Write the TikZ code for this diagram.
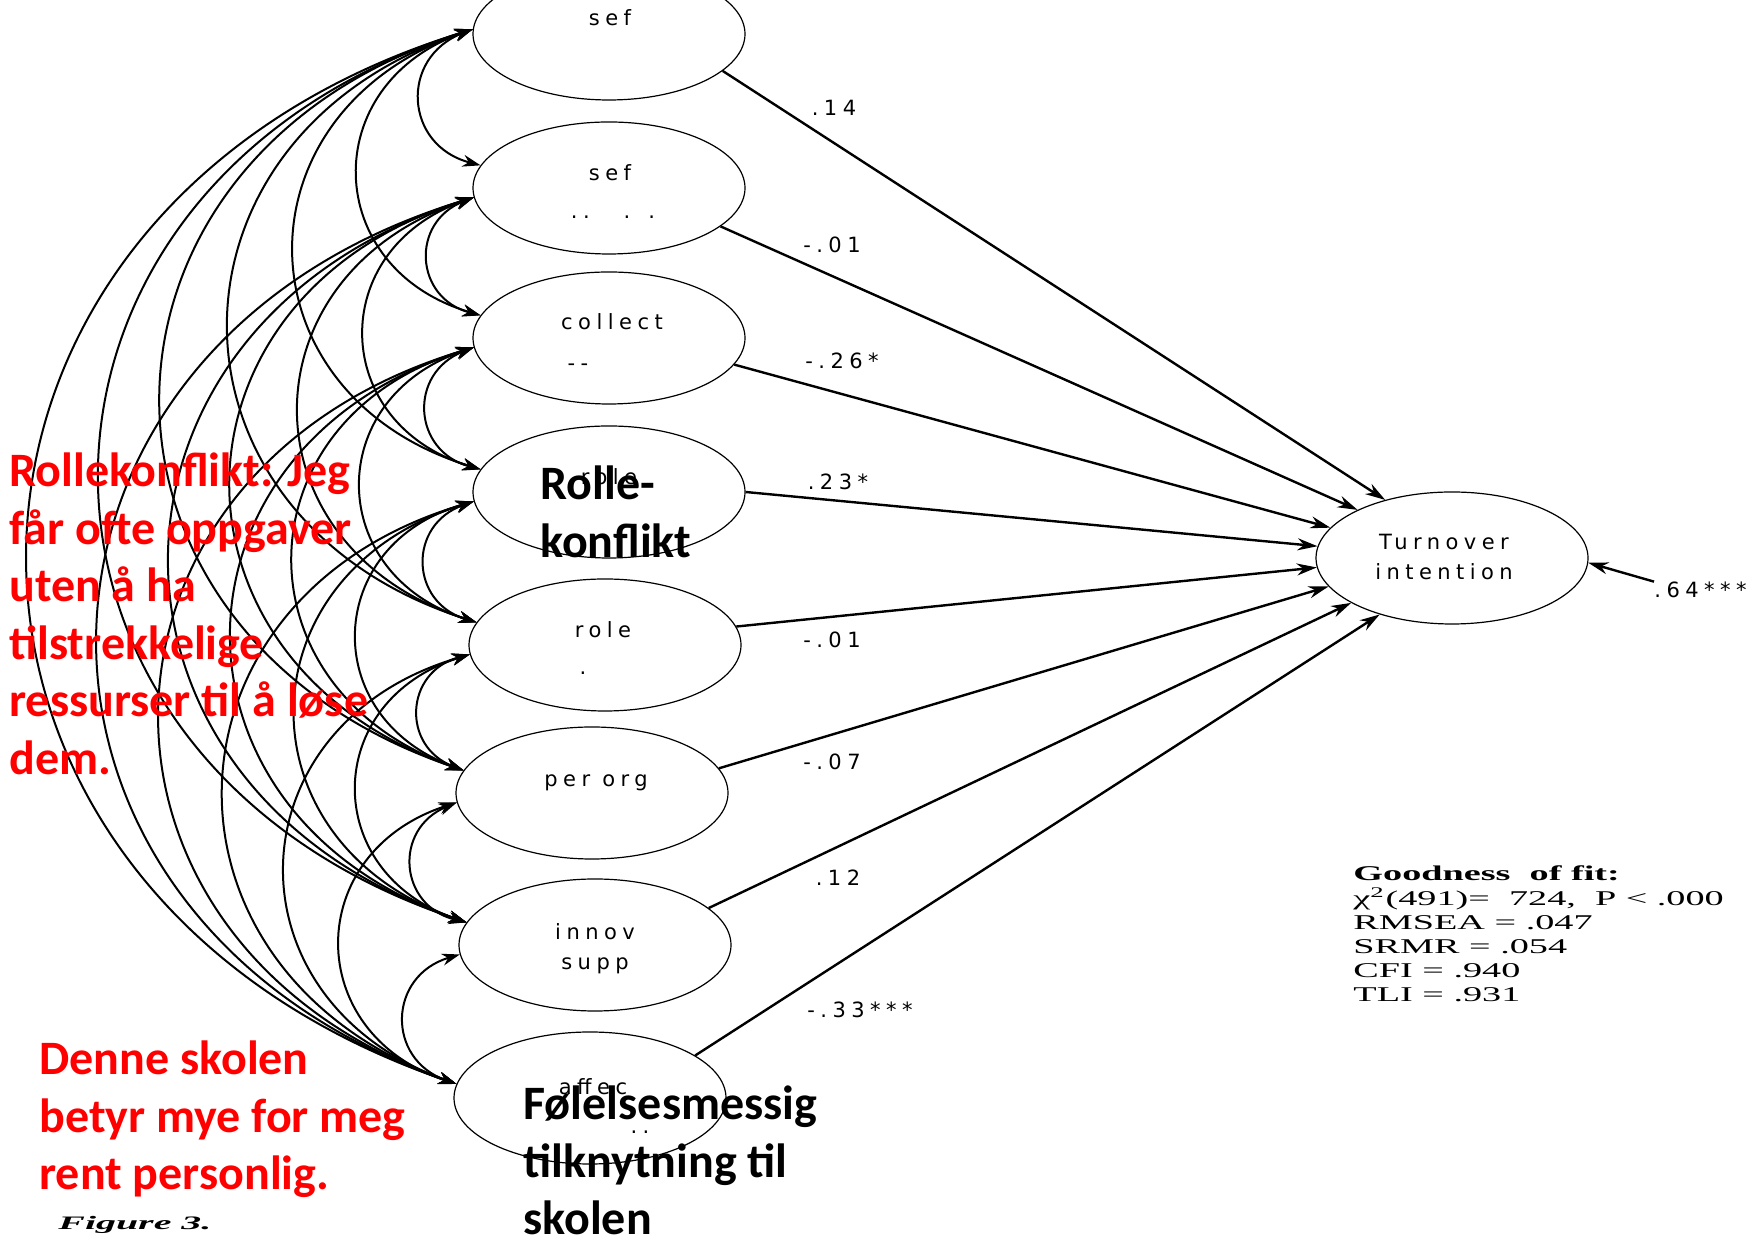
\documentclass[tikz,border=0pt]{standalone}
\usepackage{fontspec}
\usepackage{graphicx}
\usetikzlibrary{shapes.geometric,arrows.meta}
\newfontfamily\semfont[LetterSpace=26]{DejaVu Sans}
\newfontfamily\calfont{Carlito}
\newfontfamily\timesfont{Liberation Serif}
\definecolor{redtxt}{RGB}{255,0,0}
\begin{document}
\begin{tikzpicture}[x=0.5pt,y=0.5pt,
 lat/.style={draw, ellipse, minimum width=136pt, minimum height=66pt, inner sep=0pt, line width=0.6pt},
 semlab/.style={font=\semfont\fontsize{10.5}{12}\selectfont, inner sep=0pt},
 reg/.style={line width=1.2pt, -{Stealth[length=10pt,width=6pt]}},
 cov/.style={line width=1pt, {Stealth[length=9pt,width=6pt]}-{Stealth[length=9pt,width=6pt]}},
 bigtxt/.style={font=\calfont\bfseries\fontsize{24}{28.75}\selectfont, inner sep=0pt, anchor=base west},
]
\useasboundingbox (0,0) rectangle (1760,1241);
% latent variables
\node[lat] (e1) at (609,1207) {};
\node[lat] (e2) at (609,1053) {};
\node[lat] (e3) at (609,903) {};
\node[lat] (e4) at (609,749) {};
\node[lat] (e5) at (605,596) {};
\node[lat] (e6) at (592,448) {};
\node[lat] (e7) at (595,296) {};
\node[lat] (e8) at (590,143) {};
\node[lat] (T) at (1452,683) {};
% ports for covariances
\coordinate (l1) at (e1.178);
\foreach \k in {2,...,7} {
  \coordinate (l\k) at (e\k.184);
  \coordinate (u\k) at (e\k.170);
}
\coordinate (u8) at (e8.174);
\foreach \i in {1,...,7} {
  \pgfmathtruncatemacro\ni{\i+1}
  \foreach \j in {\ni,...,8} {
    \draw[cov] (l\i) to[bend right=72, looseness=1.48] (u\j);
  }
}
% regressions
\draw[reg] (e1.342) -- (T.139);
\draw[reg] (e2.341) -- (T.153);
\draw[reg] (e3.348) -- (T.166);
\draw[reg] (e4.0) -- (T.175);
\draw[reg] (e5.8) -- (T.184);
\draw[reg] (e6.11) -- (T.193);
\draw[reg] (e7.18) -- (T.204);
\draw[reg] (e8.22) -- (T.218);
% residual
\node[semlab, anchor=west] (r64) at (1654,651) {.64***};
\draw[reg] (r64.north west) -- (T.358);
% coefficients
\node[semlab] (c1) at (834,1133) {.14};
\node[semlab] (c2) at (832,996) {-.01};
\node[semlab] (c3) at (842,880) {-.26*};
\node[semlab] (c4) at (838,759) {.23*};
\node[semlab] (c5) at (832,601) {-.01};
\node[semlab] (c6) at (832,479) {-.07};
\node[semlab] (c7) at (838,363) {.12};
\node[semlab] (c8) at (860,231) {-.33***};
% ellipse labels
\node[semlab] (t1) at (610,1223) {sef};
\node[semlab] (t2) at (610,1068) {sef};
\node[semlab] (t2b) at (613,1024) {..\hspace{17pt}.\hspace{9pt}.};
\node[semlab] (t3) at (612,919) {collect};
\node[semlab] (t3b) at (578,874) {-{}-};
\node[semlab] (t4) at (609,764) {role};
\node[semlab] (t5) at (603,611) {role};
\node[semlab] (t5b) at (583,568) {.};
\node[semlab] (t6) at (596,458) {per org};
\node[semlab] (t7) at (595,309) {innov};
\node[semlab] (t7b) at (595,275) {supp};
\node[semlab] (t8) at (593,154) {affec};
\node[semlab] (t8b) at (640,109) {..};
\node[semlab] (tT) at (1444,699) {Turnover};
\node[semlab] (tTb) at (1444,669) {intention};
% fit box
\node[anchor=base west, inner sep=0pt, font=\timesfont\fontsize{10.5}{11.9}\selectfont] (gof) at (1353,360)
 {\scalebox{1.82}[1]{\begin{tabular}[t]{@{}l@{}}\textbf{Goodness\ \ of fit:}\\χ\textsuperscript{2}(491)=\ \ 724,\ \ P < .000\\RMSEA = .047\\SRMR = .054\\CFI = .940\\TLI = .931\end{tabular}}};
\node[anchor=base west, inner sep=0pt, font=\timesfont\bfseries\itshape\fontsize{9.5}{11}\selectfont] (fig) at (58,11) {\scalebox{2.1}[1]{Figure 3.}};
% overlay texts
\node[bigtxt, text=redtxt] (rk) at (9,754) {\begin{tabular}[t]{@{}l@{}}Rollekonflikt: Jeg\\får ofte oppgaver\\uten å ha\\tilstrekkelige\\ressurser til å løse\\dem.\end{tabular}};
\node[bigtxt, text=redtxt] (ds) at (39,166) {\begin{tabular}[t]{@{}l@{}}Denne skolen\\betyr mye for meg\\rent personlig.\end{tabular}};
\node[bigtxt] (rb) at (540,741) {\begin{tabular}[t]{@{}l@{}}Rolle-\\konflikt\end{tabular}};
\node[bigtxt] (fb) at (523,121) {\begin{tabular}[t]{@{}l@{}}Følelsesmessig\\tilknytning til\\skolen\end{tabular}};
\end{tikzpicture}
\end{document}
